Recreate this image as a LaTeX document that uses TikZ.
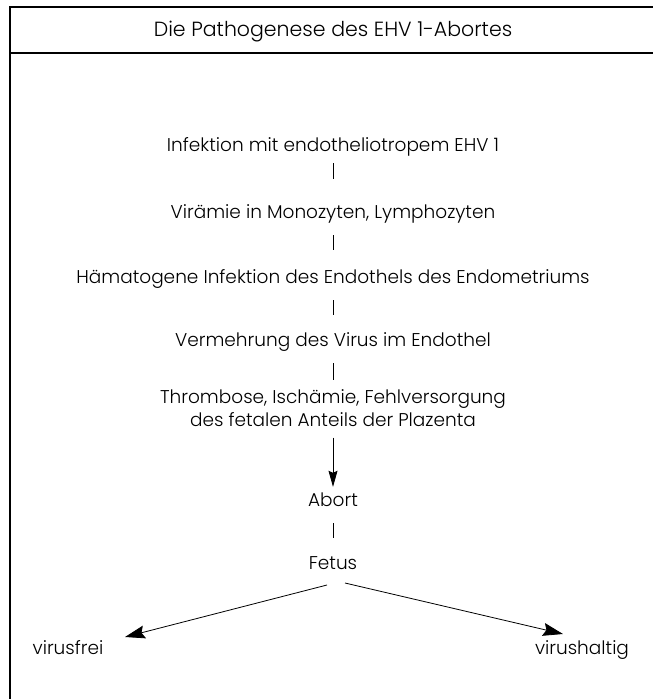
\documentclass[tikz,border=0pt]{standalone}
\usepackage{fontspec}
\setmainfont{Poppins}[UprightFont={* Light}]
\usetikzlibrary{arrows.meta}
\begin{document}
\begin{tikzpicture}[x=1pt,y=-1pt,
  lbl/.style={inner sep=0pt,font=\fontsize{18.5}{23}\selectfont,align=center,text height=14pt,text depth=4pt},
  link/.style 2 args={line width=0.8pt,shorten <=#1,shorten >=#2},
  arr/.style={line width=0.8pt,-{Stealth[length=20pt,width=13pt,inset=3pt]}},
  frame/.style={line width=1.2pt}]
\useasboundingbox (0,0) rectangle (653,699);
% frame
\coordinate (tl) at (10,7);
\coordinate (tr) at (653,7);
\coordinate (bl) at (10,699);
\coordinate (sl) at (10,53);
\coordinate (sr) at (653,53);
\draw[frame] (tr) -- (tl) -- (bl);
\draw[frame] (sl) -- (sr);
\node[lbl,font=\fontsize{20.5}{24}\selectfont] (title) at (333,31) {Die Pathogenese des EHV 1-Abortes};
% chain
\node[lbl] (n1) at (333,146) {Infektion mit endotheliotropem EHV 1};
\node[lbl] (n2) at (333,213) {Virämie in Monozyten, Lymphozyten};
\node[lbl] (n3) at (333,278) {Hämatogene Infektion des Endothels des Endometriums};
\node[lbl] (n4) at (333,341) {Vermehrung des Virus im Endothel};
\node[lbl,text height=37pt] (n5) at (333,410) {Thrombose, Ischämie, Fehlversorgung\\des fetalen Anteils der Plazenta};
\node[lbl] (n6) at (333,501) {Abort};
\node[lbl] (n7) at (333,564) {Fetus};
\node[lbl] (vf) at (68,649) {virusfrei};
\node[lbl] (vh) at (582,649) {virushaltig};
\draw[link={8pt}{25pt}] (n1) -- (n2);
\draw[link={13pt}{19pt}] (n2) -- (n3);
\draw[link={13pt}{17pt}] (n3) -- (n4);
\draw[link={13pt}{9pt}] (n4) -- (n5);
\draw[line width=0.8pt,-{Stealth[length=16pt,width=9pt,inset=2pt]},shorten <=7pt,shorten >=5pt] (n5) -- (n6);
\draw[link={13pt}{17pt}] (n6) -- (n7);
\coordinate (sL) at (327,585);
\coordinate (sR) at (345,583);
\coordinate (tL) at (125,637);
\coordinate (tR) at (563,634);
\draw[arr] (sL) -- (tL);
\draw[arr] (sR) -- (tR);
\end{tikzpicture}
\end{document}
